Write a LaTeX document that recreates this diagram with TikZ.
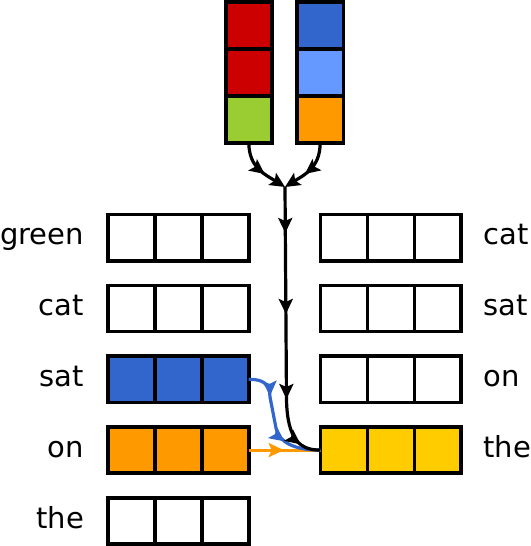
\documentclass[tikz,border=0pt]{standalone}
\usepackage{fontspec}
\setmainfont{DejaVu Sans}
\usetikzlibrary{arrows.meta,decorations.markings}
\definecolor{cred}{HTML}{CC0000}
\definecolor{cgreen}{HTML}{9ACD32}
\definecolor{cblue}{HTML}{3366CC}
\definecolor{clblue}{HTML}{6699FF}
\definecolor{corange}{HTML}{FF9900}
\definecolor{cyellow}{HTML}{FFCC00}
\tikzset{
  cell/.style={draw=black, line width=3.6pt, minimum width=46.9pt, minimum height=46.2pt,
    inner sep=0pt, outer sep=0pt},
  vcell/.style={draw=black, line width=3.6pt, minimum width=46.3pt, minimum height=47.1pt,
    inner sep=0pt, outer sep=0pt, anchor=north west},
  lbl/.style={inner sep=0pt, outer sep=0pt, font=\fontsize{29}{34}\selectfont},
  conn/.style={line width=3.2pt},
  ctip/.tip={Stealth[length=15pt,width=14pt,inset=3pt]},
}
\newcommand{\cellrow}[4]{%
  \node[cell, fill=#4, anchor=west] (#1a) at (#2,#3) {};
  \node[cell, fill=#4, anchor=west] (#1b) at (#1a.east) {};
  \node[cell, fill=#4, anchor=west] (#1c) at (#1b.east) {};
}
\begin{document}
\begin{tikzpicture}[x=1pt,y=-1pt]
\useasboundingbox (0,0) rectangle (530,546);
% top columns
\node[vcell, fill=cred] (r1) at (225.7,1.9) {};
\node[vcell, fill=cred, anchor=north] (r2) at (r1.south) {};
\node[vcell, fill=cgreen, anchor=north] (r3) at (r2.south) {};
\node[vcell, fill=cblue] (b1) at (297,1.9) {};
\node[vcell, fill=clblue, anchor=north] (b2) at (b1.south) {};
\node[vcell, fill=corange, anchor=north] (b3) at (b2.south) {};
% left rows
\cellrow{L1}{108}{237.6}{white}
\cellrow{L2}{108}{308.4}{white}
\cellrow{L3}{108}{379.3}{cblue}
\cellrow{L4}{108}{450.1}{corange}
\cellrow{L5}{108}{521.0}{white}
% right rows
\cellrow{R1}{320.5}{237.6}{white}
\cellrow{R2}{320.5}{308.4}{white}
\cellrow{R3}{320.5}{379.3}{white}
\cellrow{R4}{320.5}{450.1}{cyellow}
% labels
\node[lbl, anchor=base east] (tl1) at (84,244.8) {green};
\node[lbl, anchor=base east] (tl2) at (84,315.6) {cat};
\node[lbl, anchor=base east] (tl3) at (84,386.5) {sat};
\node[lbl, anchor=base east] (tl4) at (84,457.3) {on};
\node[lbl, anchor=base east] (tl5) at (84,528.2) {the};
\node[lbl, anchor=base west] (tr1) at (483.5,244.8) {cat};
\node[lbl, anchor=base west] (tr2) at (483.5,315.6) {sat};
\node[lbl, anchor=base west] (tr3) at (483.5,386.5) {on};
\node[lbl, anchor=base west] (tr4) at (483.5,457.3) {the};
% merge point
\coordinate (m) at (285,187);
% connectors
\draw[conn, corange, postaction={decorate}, decoration={markings,
  mark=at position 35pt with {\arrow{ctip}}}]
  (L4c.east) -- (R4a.west);
\draw[conn, cblue, postaction={decorate}, decoration={markings,
  mark=at position 31pt with {\arrow{ctip}},
  mark=at position 80pt with {\arrow{ctip}}}]
  (L3c.east) .. controls (262,379.3) and (270,383) .. (270,397)
  -- (276,428) .. controls (278.5,442) and (294,450.1) .. (R4a.west);
\draw[conn, black, postaction={decorate}, decoration={markings,
  mark=at position 46pt with {\arrow{ctip}},
  mark=at position 127pt with {\arrow{ctip}},
  mark=at position 212pt with {\arrow{ctip}},
  mark=at position 261pt with {\arrow{ctip}}}]
  (m) -- (286.5,400) .. controls (287.5,440) and (300,450.1) .. (R4a.west);
\draw[conn, black, -{ctip}, postaction={decorate}, decoration={markings,
  mark=at position 0.6 with {\arrow{ctip}}}]
  (r3.south) .. controls (249,168) and (266,175) .. (m);
\draw[conn, black, -{ctip}, postaction={decorate}, decoration={markings,
  mark=at position 0.6 with {\arrow{ctip}}}]
  (b3.south) .. controls (320,168) and (304,175) .. (m);
\end{tikzpicture}
\end{document}
